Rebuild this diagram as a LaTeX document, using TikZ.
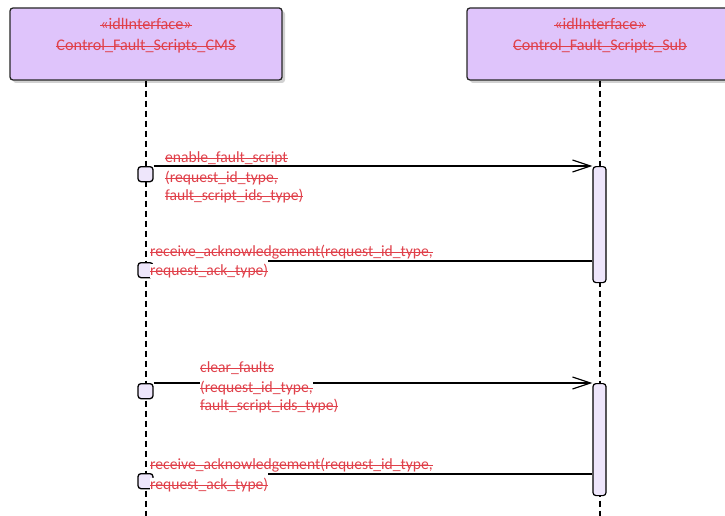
\documentclass[tikz,border=0pt]{standalone}
\usepackage{fontspec}
\setmainfont{Carlito}
\usetikzlibrary{arrows.meta}
\definecolor{ifacefill}{RGB}{223,196,251}
\definecolor{actfill}{RGB}{238,230,251}
\definecolor{msgred}{RGB}{224,64,74}
\newlength{\strklen}
\newcommand{\strk}[1]{\settowidth{\strklen}{#1}\rlap{\rule[0.21em]{\strklen}{0.07em}}#1}

\begin{document}
\begin{tikzpicture}[x=1pt,y=-1pt,
    iface/.style={draw=black!85, line width=1.3pt, fill=ifacefill, rounded corners=3pt, minimum width=272pt, minimum height=72pt},
    ishadow/.style={fill=black!18, rounded corners=3pt, minimum width=272pt, minimum height=72pt},
    lbl/.style={text=msgred, font=\fontsize{16.2}{19}\selectfont},
    msg/.style={text=msgred, fill=white, anchor=west, inner xsep=0pt, inner ysep=0pt, text height=11pt, text depth=3pt, font=\fontsize{15.6}{18}\selectfont},
    lifeline/.style={line width=1.2pt, dash pattern=on 6pt off 4pt},
    actbar/.style={draw, line width=1.2pt, fill=actfill, rounded corners=3pt, minimum width=13pt, anchor=north},
    gate/.style={draw, line width=1.3pt, fill=actfill, rounded corners=3pt, minimum size=15pt, inner sep=0pt, anchor=north},
    call/.style={line width=1.2pt, -{Straight Barb[length=18pt, width=12pt, line width=1.2pt]}},
    ret/.style={line width=1.2pt}]
    \clip (0,0) rectangle (725,516);
    % interfaces
    \node[ishadow] at (149,47) {};
    \node[iface] (cms) at (146,44) {};
    \node[lbl] (cmsst) at (146,24) {\strk{«idlInterface»}};
    \node[lbl] (cmsname) at (146,46) {\strk{Control\_Fault\_Scripts\_CMS}};
    \node[ishadow, minimum width=266pt] at (603,47) {};
    \node[iface, minimum width=266pt] (sub) at (600,44) {};
    \node[lbl] (subst) at (600,24) {\strk{«idlInterface»}};
    \node[lbl] (subname) at (600,46) {\strk{Control\_Fault\_Scripts\_Sub}};
    % lifelines
    \coordinate (cmsend) at (146,520);
    \coordinate (subend) at (600,520);
    \draw[lifeline] (cms.south) -- (cmsend);
    \draw[lifeline] (sub.south) -- (subend);
    % activations
    \node[actbar, minimum height=116pt] (actA) at (599.5,166) {};
    \node[actbar, minimum height=112pt] (actB) at (599.5,383) {};
    % gates
    \node[gate] (sqA) at (145.5,166) {};
    \node[gate] (sqB) at (145.5,262) {};
    \node[gate] (sqC) at (145.5,383) {};
    \node[gate] (sqD) at (145.5,473) {};
    % enable_fault_script
    \draw[call] (sqA.north east) -- (actA.north west);
    \node[msg] (msgA1) at (165,158) {\strk{enable\_fault\_script}};
    \node[msg] (msgA2) at (165,178) {\strk{(request\_id\_type,}};
    \node[msg] (msgA3) at (165,196) {\strk{fault\_script\_ids\_type)}};
    % acknowledgement
    \node[msg] (retA1) at (150,252.5) {\strk{receive\_acknowledgement(request\_id\_type,}};
    \node[msg] (retA2) at (150,271) {\strk{request\_ack\_type)}\hspace{6pt}};
    \draw[ret] (actA.west |- 0,261) -- (retA2.east |- 0,261);
    % clear_faults
    \draw[call] (sqC.north east) -- (actB.north west);
    \node[msg] (msgC1) at (200,368) {\strk{clear\_faults}};
    \node[msg] (msgC2) at (200,388) {\strk{(request\_id\_type,}\hspace{12pt}};
    \node[msg] (msgC3) at (200,406) {\strk{fault\_script\_ids\_type)}};
    % acknowledgement
    \node[msg] (retB1) at (150,465) {\strk{receive\_acknowledgement(request\_id\_type,}};
    \node[msg] (retB2) at (150,485) {\strk{request\_ack\_type)}\hspace{6pt}};
    \draw[ret] (actB.west |- 0,474) -- (retB2.east |- 0,474);
\end{tikzpicture}
\end{document}
